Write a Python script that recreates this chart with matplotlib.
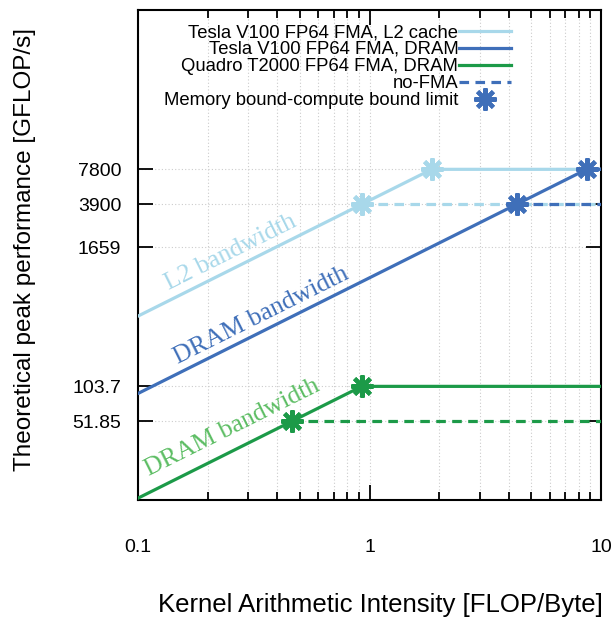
import numpy as np
import matplotlib.pyplot as plt
from matplotlib.lines import Line2D

# roofline data (GFLOP/s, GB/s)
gpu_names = ['Tesla V100 FP64 FMA, L2 cache', 'Tesla V100 FP64 FMA, DRAM', 'Quadro T2000 FP64 FMA, DRAM']
peak_fma = [7800, 7800, 103.7]
peak_nofma = [3900, 3900, 51.85]
bandwidth = [4200, 900, 112]
line_colors = ['#a8d8ea', '#3f6fb9', '#1c9a48']
text_colors = ['#a8d8ea', '#3f6fb9', '#5cbd63']
band_labels = ['L2 bandwidth', 'DRAM bandwidth', 'DRAM bandwidth']
label_pos = [(0.252, 1500), (0.340, 421), (0.255, 45.3)]

xmin, xmax = 0.1, 10
ymin, ymax = 10.8, 1.86e5
yticks = [51.85, 103.7, 1659, 3900, 7800]
ytick_labels = ['51.85', '103.7', '1659', '3900', '7800']

plt.rcParams['font.family'] = ['Liberation Sans', 'DejaVu Sans']

fig = plt.figure(figsize=(6.16, 6.17), dpi=100)
ax = fig.add_axes([138/616, 1-500/617, (601-138)/616, (500-10)/617])
ax.set_xscale('log')
ax.set_yscale('log')
ax.set_xlim(xmin, xmax)
ax.set_ylim(ymin, ymax)

lw = 2.3
star = (8, 2, 0)
for i in range(3):
    bw = bandwidth[i]
    knee = peak_fma[i] / bw
    knee2 = peak_nofma[i] / bw
    ax.plot([xmin, knee, xmax], [bw*xmin, peak_fma[i], peak_fma[i]], c=line_colors[i], lw=lw, zorder=3)
    ax.plot([knee2, xmax], [peak_nofma[i], peak_nofma[i]], c=line_colors[i], lw=lw, ls=(0, (3, 2)), zorder=3)
    ax.plot([knee, knee2], [peak_fma[i], peak_nofma[i]], ls='none', marker=star, ms=16, mew=3,
            mec=line_colors[i], zorder=4, clip_on=False)

# rotated bandwidth labels
p0 = ax.transData.transform((1, 100))
p1 = ax.transData.transform((10, 1000))
angle = np.degrees(np.arctan2(p1[1]-p0[1], p1[0]-p0[0]))
for i in range(3):
    ax.text(label_pos[i][0], label_pos[i][1], band_labels[i], color=text_colors[i], rotation=angle,
            rotation_mode='anchor', ha='center', va='center', fontsize=18.5, family='Liberation Serif')

ax.set_yticks(yticks)
ax.set_yticklabels(ytick_labels)
ax.yaxis.set_minor_locator(plt.NullLocator())
ax.set_xticks([0.1, 1, 10])
ax.set_xticklabels(['0.1', '1', '10'])
ax.tick_params(which='both', direction='in', top=True, right=True, labelsize=14)
ax.tick_params(which='major', length=11, width=1.3)
ax.tick_params(which='minor', length=6, width=1.3)
ax.tick_params(axis='y', pad=12)
ax.tick_params(axis='x', pad=28)
ax.grid(True, which='both', axis='x', ls=(0, (1, 2)), c='#cccccc', lw=0.8)
ax.grid(True, which='major', axis='y', ls=(0, (1, 2)), c='#cccccc', lw=0.8)
for s in ax.spines.values():
    s.set_linewidth(1.5)

ax.set_xlabel('Kernel Arithmetic Intensity [FLOP/Byte]', fontsize=18.5)
ax.xaxis.set_label_coords(380/616, 1-605/617, transform=fig.transFigure)
ax.set_ylabel('Theoretical peak performance [GFLOP/s]', fontsize=17.5)
ax.yaxis.set_label_coords(25/616, 1-250/617, transform=fig.transFigure)
ax.xaxis.label.set_va('center')
ax.yaxis.label.set_va('center')

handles = [Line2D([], [], c=line_colors[0], lw=lw),
           Line2D([], [], c=line_colors[1], lw=lw),
           Line2D([], [], c=line_colors[2], lw=lw),
           Line2D([], [], c=line_colors[1], lw=lw, ls=(0, (3, 2))),
           Line2D([], [], ls='none', marker=star, ms=16, mew=3, mec=line_colors[1])]
labels = gpu_names + ['no-FMA', 'Memory bound-compute bound limit']
ax.legend(handles, labels, loc='upper right', bbox_to_anchor=(511/616, 1-24/617),
          bbox_transform=fig.transFigure, frameon=False, markerfirst=False, fontsize=13.3,
          handlelength=2.8, handletextpad=0.05, labelspacing=0.0, borderpad=0, borderaxespad=0)

fig.savefig('out.png', dpi=100)
